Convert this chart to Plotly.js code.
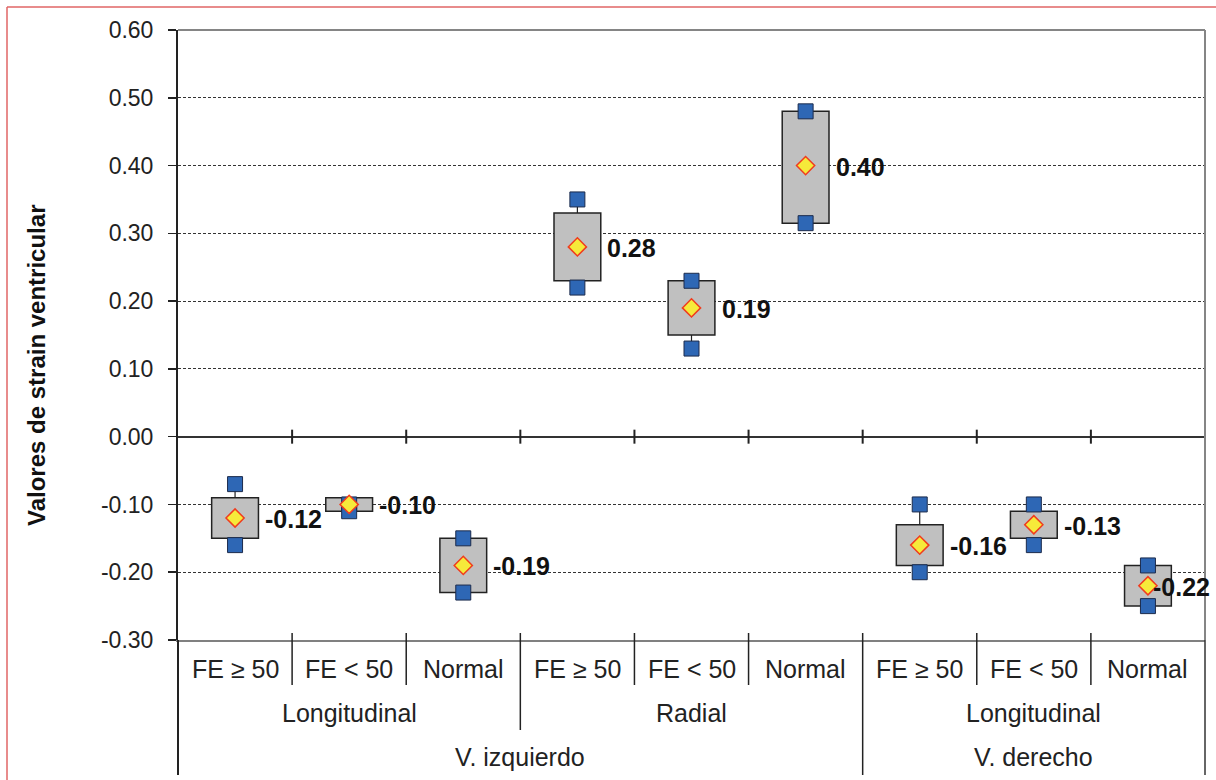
<!DOCTYPE html>
<html>
<head>
<meta charset="utf-8">
<script src="https://cdn.plot.ly/plotly-3.0.1.min.js"></script>
<style>html,body{margin:0;padding:0;background:#fff;}#chart{width:1216px;height:780px;}</style>
</head>
<body>
<div id="chart"></div>
<script>
// ---- data ----
const categories = ['FE \u2265 50', 'FE < 50', 'Normal', 'FE \u2265 50', 'FE < 50', 'Normal', 'FE \u2265 50', 'FE < 50', 'Normal'];
const strainTypes = ['Longitudinal', 'Radial', 'Longitudinal'];
const strainTypeSpans = [[0, 2], [3, 5], [6, 8]];
const ventricles = ['V. izquierdo', 'V. derecho'];
const ventricleSpans = [[0, 5], [6, 8]];

const maxValues  = [-0.07, -0.10, -0.15, 0.35, 0.23, 0.48, -0.10, -0.10, -0.19];
const q3Values   = [-0.09, -0.09, -0.15, 0.33, 0.23, 0.48, -0.13, -0.11, -0.19];
const q1Values   = [-0.15, -0.11, -0.23, 0.23, 0.15, 0.315, -0.19, -0.15, -0.25];
const minValues  = [-0.16, -0.11, -0.23, 0.22, 0.13, 0.315, -0.20, -0.16, -0.25];
const meanValues = [-0.12, -0.10, -0.19, 0.28, 0.19, 0.40, -0.16, -0.13, -0.22];

const yTicks = [-0.30, -0.20, -0.10, 0.00, 0.10, 0.20, 0.30, 0.40, 0.50, 0.60];
const yTitle = 'Valores de strain ventricular';

// ---- geometry helpers (pixel -> paper) ----
const W = 1216, H = 780;
const L = 178, R = 1205, T = 30, B = 640;
const pw = R - L, ph = B - T;
const pyP = p => (B - p) / ph;
const pxP = p => (p - L) / pw;
const FONT = 'Liberation Sans, Arial, sans-serif';

const xs = categories.map((_, i) => i);

// ---- traces ----
const boxes = {
  type: 'bar', x: xs,
  y: q3Values.map((v, i) => v - q1Values[i]),
  base: q1Values,
  width: 0.41,
  marker: {color: '#c0c0c0', line: {color: '#222', width: 1.5}},
  hoverinfo: 'skip', showlegend: false
};

const wx = [], wy = [];
xs.forEach(i => {
  if (maxValues[i] > q3Values[i]) { wx.push(i, i, null); wy.push(q3Values[i], maxValues[i], null); }
  if (minValues[i] < q1Values[i]) { wx.push(i, i, null); wy.push(minValues[i], q1Values[i], null); }
});
const whiskers = {
  type: 'scatter', mode: 'lines', x: wx, y: wy,
  line: {color: '#222', width: 1.2}, hoverinfo: 'skip', showlegend: false
};

const squares = {
  type: 'scatter', mode: 'markers',
  x: xs.concat(xs), y: maxValues.concat(minValues),
  marker: {symbol: 'square', size: 15, color: '#2e67b5', line: {color: '#1c2b4c', width: 1}},
  hoverinfo: 'skip', showlegend: false
};

const diamonds = {
  type: 'scatter', mode: 'markers', x: xs, y: meanValues,
  marker: {symbol: 'diamond', size: 14, color: '#f6ea3a', line: {color: '#f03c1e', width: 1.5}},
  hoverinfo: 'skip', showlegend: false
};

// ---- shapes ----
const shapes = [];
const line = (o, color, width) => Object.assign({type: 'line', layer: 'above', line: {color: color, width: width}}, o);
// frame top/right
shapes.push(line({xref: 'paper', yref: 'paper', x0: 0, x1: 1, y0: 1, y1: 1}, '#858585', 2));
shapes.push(line({xref: 'paper', yref: 'paper', x0: 1, x1: 1, y0: 0, y1: 1}, '#858585', 2));
shapes.push(line({xref: 'paper', yref: 'paper', x0: 1, x1: 1, y0: pyP(775), y1: 0}, '#333', 1.5));
shapes.push(line({xref: 'paper', yref: 'paper', x0: 0, x1: 0, y0: pyP(775), y1: 0}, '#222', 2));
// ticks on the zero line at category boundaries
for (let i = 0; i < categories.length - 1; i++) {
  shapes.push(line({xref: 'x', yref: 'y', x0: i + 0.5, x1: i + 0.5, ysizemode: 'pixel', yanchor: 0, y0: -7, y1: 7}, '#222', 2));
}
// category dividers below axis
const typeBounds = strainTypeSpans.slice(0, -1).map(s => s[1] + 0.5);
const ventBounds = ventricleSpans.slice(0, -1).map(s => s[1] + 0.5);
for (let i = 0; i < categories.length - 1; i++) {
  const b = i + 0.5;
  let bottom = 685;
  if (ventBounds.includes(b)) bottom = 775;
  else if (typeBounds.includes(b)) bottom = 730;
  shapes.push(line({xref: 'x', yref: 'paper', x0: b, x1: b, y0: pyP(633), y1: pyP(bottom)}, '#222', 1.5));
}
// outer red frame (top and left)
shapes.push(line({xref: 'paper', yref: 'paper', x0: pxP(7), x1: pxP(1216), y0: pyP(7), y1: pyP(7)}, '#e06666', 1.5));
shapes.push(line({xref: 'paper', yref: 'paper', x0: pxP(7), x1: pxP(7), y0: pyP(7), y1: pyP(780)}, '#e06666', 1.5));

// ---- annotations ----
const annotations = [];
categories.forEach((c, i) => {
  annotations.push({xref: 'x', yref: 'paper', x: i, y: pyP(669), text: c, showarrow: false,
    xanchor: 'center', yanchor: 'middle', font: {family: FONT, size: 25, color: '#222'}});
});
strainTypes.forEach((t, k) => {
  const s = strainTypeSpans[k];
  annotations.push({xref: 'x', yref: 'paper', x: (s[0] + s[1]) / 2, y: pyP(713), text: t, showarrow: false,
    xanchor: 'center', yanchor: 'middle', font: {family: FONT, size: 25, color: '#222'}});
});
ventricles.forEach((t, k) => {
  const s = ventricleSpans[k];
  annotations.push({xref: 'x', yref: 'paper', x: (s[0] + s[1]) / 2, y: pyP(757), text: t, showarrow: false,
    xanchor: 'center', yanchor: 'middle', font: {family: FONT, size: 25, color: '#222'}});
});
// value labels
const catW = pw / categories.length;
meanValues.forEach((v, i) => {
  const txt = v.toFixed(2);
  const cx = L + (i + 0.5) * catW;
  const estW = txt.length * 0.56 * 25;
  const a = {xref: 'x', yref: 'y', x: i, y: v, text: '<b>' + txt + '</b>', showarrow: false,
    xanchor: 'left', yanchor: 'middle', xshift: 28, yshift: -1,
    font: {family: FONT, size: 25, color: '#111'}};
  if (cx + 28 + estW > 1212) { a.xref = 'paper'; a.x = pxP(1212); a.xanchor = 'right'; a.xshift = 0; }
  annotations.push(a);
});
// y title
annotations.push({xref: 'paper', yref: 'paper', x: pxP(36), y: pyP(366), text: '<b>' + yTitle + '</b>',
  textangle: -90, showarrow: false, xanchor: 'center', yanchor: 'middle',
  font: {family: FONT, size: 24, color: '#111'}});

const layout = {
  width: W, height: H,
  margin: {l: L, r: W - R, t: T, b: H - B, pad: 0},
  paper_bgcolor: '#fff', plot_bgcolor: '#fff',
  showlegend: false,
  bargap: 0,
  xaxis: {type: 'linear', range: [-0.5, categories.length - 0.5], showticklabels: false, ticks: '',
    showgrid: false, zeroline: false, showline: true, linecolor: '#808080', linewidth: 2, fixedrange: true},
  yaxis: {range: [-0.3, 0.6], tickmode: 'array', tickvals: yTicks, ticktext: yTicks.map(v => v.toFixed(2)),
    ticks: 'outside', ticklen: 8, tickwidth: 1.5, tickcolor: '#222', ticklabelstandoff: 10,
    tickfont: {family: FONT, size: 23, color: '#222'},
    showgrid: true, gridcolor: '#333', gridwidth: 1, griddash: '3px,2px',
    zeroline: true, zerolinecolor: '#333', zerolinewidth: 2,
    showline: true, linecolor: '#222', linewidth: 2, fixedrange: true},
  shapes: shapes,
  annotations: annotations
};

Plotly.newPlot('chart', [boxes, whiskers, squares, diamonds], layout, {displayModeBar: false, staticPlot: true});
</script>
</body>
</html>
